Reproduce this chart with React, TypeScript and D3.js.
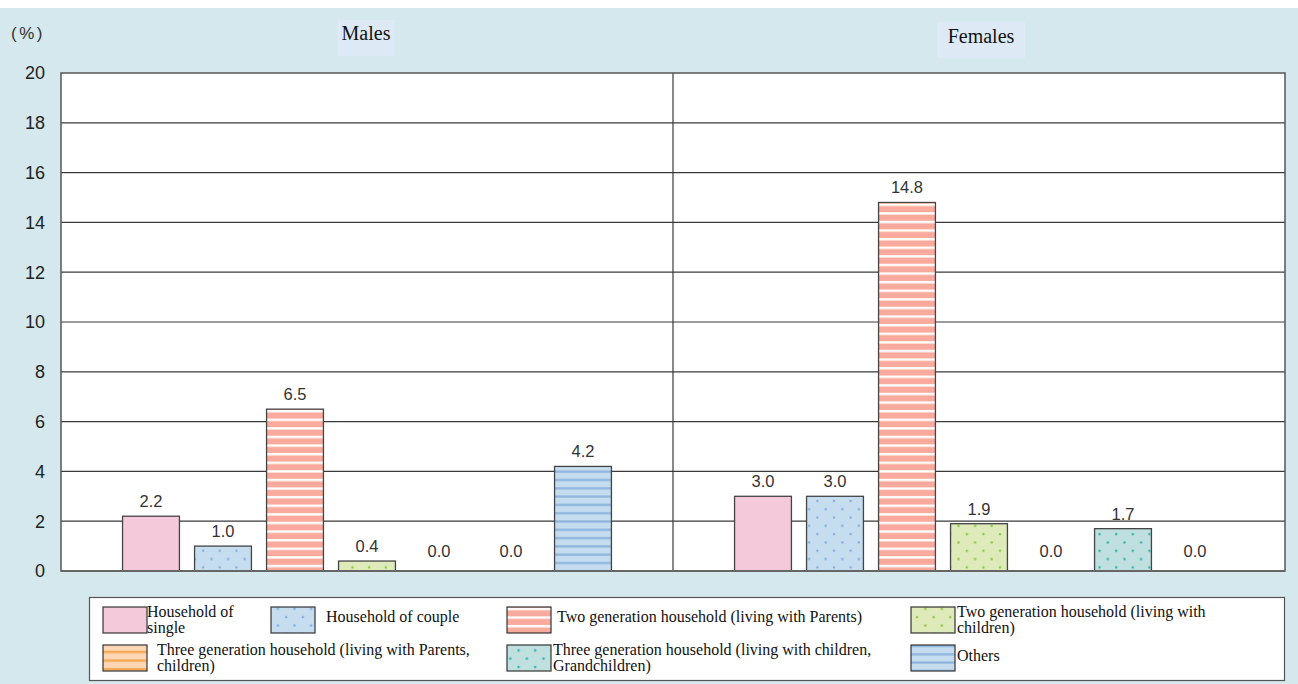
import React from "react";
import * as d3 from "d3";

const categories = [
  "Household of single",
  "Household of couple",
  "Two generation household (living with Parents)",
  "Two generation household (living with children)",
  "Three generation household (living with Parents, children)",
  "Three generation household (living with children, Grandchildren)",
  "Others",
];
const panels = ["Males", "Females"];
const malesValues = [2.2, 1.0, 6.5, 0.4, 0.0, 0.0, 4.2];
const femalesValues = [3.0, 3.0, 14.8, 1.9, 0.0, 1.7, 0.0];
const yTicks = [0, 2, 4, 6, 8, 10, 12, 14, 16, 18, 20];
const legendLines = [
  ["Household of", "single"],
  ["Household of couple"],
  ["Two generation household (living with Parents)"],
  ["Two generation household (living with", "children)"],
  ["Three generation household (living with Parents,", "children)"],
  ["Three generation household (living with children,", "Grandchildren)"],
  ["Others"],
];

const W = 1298;
const H = 684;
const plot = { left: 61, right: 1285, top: 73, bottom: 571 };
const mid = 673;

const fills = ["url(#pSingle)", "url(#pCouple)", "url(#pTwoPar)", "url(#pTwoChild)", "url(#pThreePar)", "url(#pThreeChild)", "url(#pOthers)"];

const legendPos = [
  { sx: 103, sy: 607, tx: 147, ty: [617, 633] },
  { sx: 271, sy: 607, tx: 326, ty: [622] },
  { sx: 507, sy: 607, tx: 557, ty: [622] },
  { sx: 911, sy: 607, tx: 957, ty: [617, 633] },
  { sx: 103, sy: 645, tx: 157, ty: [655, 671] },
  { sx: 507, sy: 645, tx: 553, ty: [655, 671] },
  { sx: 911, sy: 645, tx: 957, ty: [661] },
];

export default function App() {
  const y = d3.scaleLinear().domain([0, 20]).range([plot.bottom, plot.top]);
  const panelRanges: [number, number][] = [
    [plot.left, mid],
    [mid, plot.right],
  ];
  const data = [malesValues, femalesValues];
  const sans = "'Liberation Sans', Arial, sans-serif";
  const serif = "'Liberation Serif', 'Times New Roman', serif";

  return (
    <svg width={W} height={H} style={{ position: "absolute", left: 0, top: 0, display: "block" }}>
      <defs>
        <pattern id="pSingle" patternUnits="userSpaceOnUse" width={10} height={10}>
          <rect width={10} height={10} fill="#f4cadb" />
        </pattern>
        <pattern id="pCouple" patternUnits="userSpaceOnUse" width={16.6} height={16.6}>
          <rect width={16.6} height={16.6} fill="#c6dcef" />
          <circle cx={4} cy={3} r={1.2} fill="#7eaee0" />
          <circle cx={12.3} cy={11.3} r={1.2} fill="#7eaee0" />
        </pattern>
        <pattern id="pTwoPar" patternUnits="userSpaceOnUse" width={10} height={8.6}>
          <rect width={10} height={8.6} fill="#f9aa9c" />
          <rect y={5.8} width={10} height={2.4} fill="#ffffff" />
        </pattern>
        <pattern id="pTwoChild" patternUnits="userSpaceOnUse" width={16.6} height={16.6}>
          <rect width={16.6} height={16.6} fill="#dfeabb" />
          <circle cx={4} cy={3} r={1.3} fill="#93c94a" />
          <circle cx={12.3} cy={11.3} r={1.3} fill="#93c94a" />
        </pattern>
        <pattern id="pThreePar" patternUnits="userSpaceOnUse" width={10} height={8.6}>
          <rect width={10} height={8.6} fill="#fdd7b5" />
          <rect y={5.8} width={10} height={2.4} fill="#f7a852" />
        </pattern>
        <pattern id="pThreeChild" patternUnits="userSpaceOnUse" width={16.6} height={16.6}>
          <rect width={16.6} height={16.6} fill="#bfe0df" />
          <circle cx={4} cy={3} r={1.3} fill="#35b7ae" />
          <circle cx={12.3} cy={11.3} r={1.3} fill="#35b7ae" />
        </pattern>
        <pattern id="pOthers" patternUnits="userSpaceOnUse" width={10} height={8.3}>
          <rect width={10} height={8.3} fill="#c5dcef" />
          <rect y={5.8} width={10} height={2.2} fill="#8db4dd" />
        </pattern>
      </defs>

      <rect x={0} y={0} width={W} height={H} fill="#ffffff" />
      <rect x={0} y={8} width={W} height={H - 8} fill="#d4e8ee" />

      <rect x={plot.left} y={plot.top} width={plot.right - plot.left} height={plot.bottom - plot.top} fill="#ffffff" />

      {yTicks.slice(1, -1).map((t) => (
        <line key={t} x1={plot.left} x2={plot.right} y1={y(t)} y2={y(t)} stroke="#3a3a3a" strokeWidth={1.2} />
      ))}

      {yTicks.map((t) => (
        <text key={t} x={45} y={y(t)} dy="0.36em" textAnchor="end" fontFamily={sans} fontSize={18} fill="#222">
          {t}
        </text>
      ))}
      <text x={11} y={39} fontFamily={sans} fontSize={17} letterSpacing={2.5} fill="#333">(%)</text>

      {panelRanges.map((r, pi) => {
        const x = d3.scaleBand<string>().domain(categories).range([r[0], r[1]]).paddingInner(0.21).paddingOuter(0.855);
        return (
          <g key={pi}>
            {categories.map((c, i) => {
              const v = data[pi][i];
              const bx = x(c)!;
              const cx = bx + x.bandwidth() / 2;
              return (
                <g key={c}>
                  {v > 0 && (
                    <rect x={bx} y={y(v)} width={x.bandwidth()} height={y(0) - y(v)} fill={fills[i]} stroke="#444" strokeWidth={1.3} />
                  )}
                  <text x={cx} y={y(v) - (v > 0 ? 9 : 14)} textAnchor="middle" fontFamily={sans} fontSize={16.5} fill="#333">
                    {v.toFixed(1)}
                  </text>
                </g>
              );
            })}
          </g>
        );
      })}

      <line x1={mid} x2={mid} y1={plot.top} y2={plot.bottom} stroke="#3a3a3a" strokeWidth={1.2} />
      <rect x={plot.left} y={plot.top} width={plot.right - plot.left} height={plot.bottom - plot.top} fill="none" stroke="#555" strokeWidth={1.5} />
      <line x1={plot.left} x2={plot.right} y1={plot.bottom} y2={plot.bottom} stroke="#666" strokeWidth={2} />

      {panels.map((p, pi) => {
        const cx = pi === 0 ? 366 : 981;
        const w = pi === 0 ? 57 : 88;
        return (
          <g key={p}>
            <rect x={cx - w / 2} y={pi === 0 ? 20 : 22} width={w} height={36} fill="#dde9f4" />
            <text x={cx} y={pi === 0 ? 40 : 43} textAnchor="middle" fontFamily={serif} fontSize={20} fill="#111">
              {p}
            </text>
          </g>
        );
      })}

      <rect x={89.5} y={597.5} width={1195} height={83} fill="#ffffff" stroke="#555" strokeWidth={1.2} />
      {categories.map((c, i) => {
        const lp = legendPos[i];
        return (
          <g key={c}>
            <rect x={lp.sx} y={lp.sy} width={44} height={26} fill={fills[i]} stroke="#333" strokeWidth={1.2} />
            {legendLines[i].map((line, li) => (
              <text key={li} x={lp.tx} y={lp.ty[li]} fontFamily={serif} fontSize={16} fill="#111">
                {line}
              </text>
            ))}
          </g>
        );
      })}
    </svg>
  );
}
